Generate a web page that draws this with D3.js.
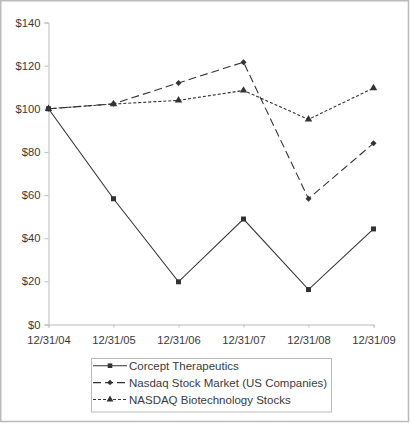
<!DOCTYPE html>
<html><head><meta charset="utf-8">
<script src="https://cdn.jsdelivr.net/npm/d3@7"></script>
<style>body{margin:0;background:#fff}svg{display:block}text{font-family:"Liberation Sans",Arial,sans-serif;font-size:11px;fill:#3a3a3a}</style>
</head><body>
<script>
const categories = ["12/31/04","12/31/05","12/31/06","12/31/07","12/31/08","12/31/09"];
const corcept = [100, 58.3, 19.8, 48.9, 16.2, 44.3];
const nasdaq = [100, 102.3, 112.0, 121.6, 58.3, 84.0];
const biotech = [100, 102.2, 103.9, 108.5, 95.1, 109.6];
const yTicks = [0,20,40,60,80,100,120,140];
const seriesNames = ["Corcept Therapeutics","Nasdaq Stock Market (US Companies)","NASDAQ Biotechnology Stocks"];

const W=411,H=423;
const svg=d3.select("body").append("svg").attr("width",W).attr("height",H);
svg.append("rect").attr("x",0.75).attr("y",0.75).attr("width",407.75).attr("height",420.75)
  .attr("fill","none").attr("stroke","#bbb").attr("stroke-width",1.5);

const x=d3.scalePoint().domain(categories).range([48.5,373.5]);
const y=d3.scaleLinear().domain([0,140]).range([324.5,22.5]);

const yAxis=svg.append("g").attr("transform","translate(48.5,0)")
  .call(d3.axisLeft(y).tickValues(yTicks).tickSize(4).tickPadding(4).tickFormat(d=>"$"+d));
const xAxis=svg.append("g").attr("transform","translate(0,324.5)")
  .call(d3.axisBottom(x).tickSize(3).tickPadding(9));
[yAxis,xAxis].forEach(g=>{
  g.select(".domain").attr("stroke","#bbb");
  g.selectAll(".tick line").attr("stroke","#bbb");
  g.selectAll("text").attr("fill","#3a3a3a").style("font-size","11.2px").style("font-family",'"Liberation Sans",Arial,sans-serif');
});

const defs=[
  {vals:corcept,dash:null,sym:d3.symbolSquare,size:25,rot:0},
  {vals:nasdaq,dash:"8,4",sym:d3.symbolSquare,size:18,rot:45},
  {vals:biotech,dash:"3,2",sym:d3.symbolTriangle,size:24,rot:0}
];
const line=d3.line().x((d,i)=>x(categories[i])).y(d=>y(d));
defs.forEach(s=>{
  svg.append("path").datum(s.vals).attr("d",line).attr("fill","none")
    .attr("stroke","#333").attr("stroke-width",1.1).attr("stroke-dasharray",s.dash);
  svg.selectAll(null).data(s.vals).enter().append("path")
    .attr("transform",(d,i)=>`translate(${x(categories[i])},${y(d)}) rotate(${s.rot})`)
    .attr("d",d3.symbol().type(s.sym).size(s.size)).attr("fill","#333");
});

// legend
const lg=svg.append("g");
lg.append("rect").attr("x",91.5).attr("y",358.5).attr("width",240).attr("height",53.5)
  .attr("fill","#fff").attr("stroke","#bbb");
defs.forEach((s,i)=>{
  const yy=365.7+i*16.9;
  lg.append("line").attr("x1",93).attr("x2",127).attr("y1",yy).attr("y2",yy)
    .attr("stroke","#333").attr("stroke-width",1.1).attr("stroke-dasharray",s.dash);
  lg.append("path").attr("transform",`translate(110,${yy}) rotate(${s.rot})`).attr("d",d3.symbol().type(s.sym).size(s.size*0.85)).attr("fill","#333");
  lg.append("text").attr("x",129).attr("y",yy).attr("dy","0.35em").style("font-size","11.5px").text(seriesNames[i]);
});
</script>
</body></html>
